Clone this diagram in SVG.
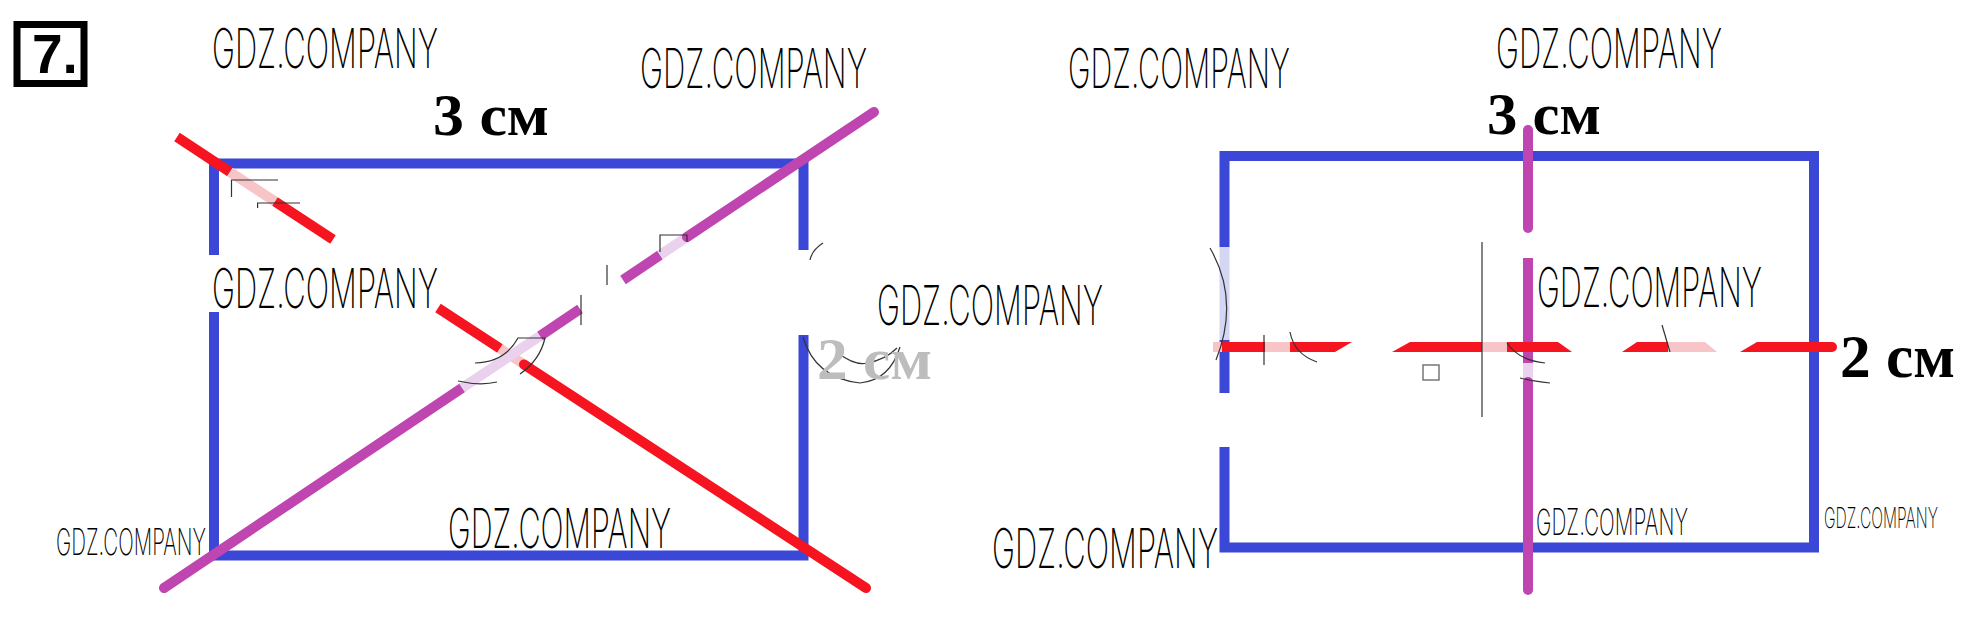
<svg xmlns="http://www.w3.org/2000/svg" width="1976" height="617" viewBox="0 0 1976 617">
<style>
.wm{font-family:Inter,"DejaVu Sans",sans-serif;font-weight:200;fill:#000;}
.lbl{font-family:"Liberation Serif","DejaVu Serif",serif;font-weight:bold;fill:#000;}
.edge{fill:none;stroke:#3b47d6;stroke-width:10;stroke-linejoin:miter;}
.red{stroke:#f5141f;stroke-width:10;fill:none;}
.redf{fill:#f5141f;}
.pink{stroke:#f7c4c8;stroke-width:10;fill:none;}
.pinkf{fill:#f7c4c8;}
.mag{stroke:#bf45b0;stroke-width:10;fill:none;}
.lmag{stroke:#ead2ee;stroke-width:10;fill:none;}
.thin{fill:none;stroke:#333;stroke-width:1.2;}
</style>
<rect width="1976" height="617" fill="#fff"/>

<g id="task-number">
<rect x="17" y="24.5" width="67" height="59" fill="none" stroke="#000" stroke-width="7"/>
<text x="32" y="73" font-family="Liberation Sans, Arial, sans-serif" font-weight="bold" font-size="55">7.</text>
</g>

<g id="left-rectangle">
<path class="edge" d="M214,255 V163.5 H803.5 V250"/>
<path class="edge" d="M803.5,335 V555.5 H214 V312"/>
</g>

<g id="right-rectangle">
<path class="edge" d="M1224.5,247 V156 H1814 V547.5 H1224.5 V447"/>
<path class="edge" d="M1224.5,340 V393"/>
<path d="M1224.5,247 V340" stroke="#d3d7f3" stroke-width="10"/>
</g>

<g id="connectors">
<path class="red" d="M177,137 L230,172"/>
<path class="pink" d="M230,172 L275,201.5"/>
<path class="red" d="M275,201.5 L333,239.5"/>
<path class="red" d="M438,308 L500,348.5"/>
<path class="pink" d="M500,348.5 L524,364.5"/>
<path class="red" d="M524,364.5 L866,588" stroke-linecap="round"/>
<path class="mag" d="M164,588 L462,388" stroke-linecap="round"/>
<path class="lmag" d="M462,388 L540,336"/>
<path class="mag" d="M540,336 L580,309"/>
<path class="mag" d="M623,280 L660,255"/>
<path class="lmag" d="M660,255 L687,237"/>
<path class="mag" d="M687,237 L874,112" stroke-linecap="round"/>
<path class="mag" d="M1528,130 V228" stroke-linecap="round"/>
<path class="mag" d="M1528,258 V363"/>
<path class="lmag" d="M1528,363 V382"/>
<path class="mag" d="M1528,382 V590" stroke-linecap="round"/>
<path class="pink" d="M1213,347 H1222"/>
<path class="red" d="M1222,347 H1265"/>
<path class="pink" d="M1265,347 H1290"/>
<polygon class="redf" points="1290,342 1352,342 1335,352 1290,352"/>
<polygon class="redf" points="1410,342 1482,342 1482,352 1392,352"/>
<path class="pink" d="M1482,347 H1507"/>
<polygon class="redf" points="1507,342 1558,342 1572,352 1507,352"/>
<polygon class="redf" points="1637,342 1668,342 1668,352 1622,352"/>
<polygon class="pinkf" points="1668,342 1705,342 1717,352 1668,352"/>
<polygon class="redf" points="1757,342 1832,342 1832,352 1740,352"/>
<circle cx="1832" cy="347" r="5" fill="#f5141f"/>
</g>

<g id="artifacts">
<path class="thin" d="M231.5,197 V180 H278"/>
<path class="thin" d="M257.6,208 V203 H300"/>
<path class="thin" d="M660,252 V235 H687 V242"/>
<path class="thin" d="M607,265 V285"/>
<path class="thin" d="M581,295 V325"/>
<path class="thin" d="M475,363 Q505,362 518,338 H545 Q540,360 520,374"/>
<path class="thin" d="M458,381 Q480,386 497,382"/>
<path class="thin" d="M1482,242 V417"/>
<rect x="1423" y="365" width="16" height="15" fill="none" stroke="#777" stroke-width="1.5"/>
<path class="thin" d="M1210,248 Q1240,300 1216,360"/>
<path class="thin" d="M1264,335 V365"/>
<path class="thin" d="M1290,332 Q1294,354 1317,362"/>
<path class="thin" d="M1507,343 Q1518,360 1545,363"/>
<path class="thin" d="M1520,378 Q1532,381 1550,383"/>
<path class="thin" d="M1662,325 L1670,352"/>
<path class="thin" d="M803,337 Q815,378 860,383 Q890,380 900,347"/>
<path class="thin" d="M838,353 Q855,366 867,363 Q885,360 897,348"/>
<path class="thin" d="M823,243 Q812,250 810,260"/>
</g>

<g id="labels">
<text class="lbl" x="433" y="135" font-size="60" textLength="116" lengthAdjust="spacingAndGlyphs">3 см</text>
<text class="lbl" x="1487" y="134" font-size="60" textLength="114" lengthAdjust="spacingAndGlyphs">3 см</text>
<text class="lbl" x="1840" y="377" font-size="62" textLength="115" lengthAdjust="spacingAndGlyphs">2 см</text>
<text class="lbl" x="817" y="379" font-size="60" textLength="115" lengthAdjust="spacingAndGlyphs" style="fill:#bdbdbd">2 см</text>
</g>

<g id="watermarks">
<text class="wm" x="212" y="68" font-size="55" textLength="226" lengthAdjust="spacingAndGlyphs">GDZ.COMPANY</text>
<text class="wm" x="640" y="88" font-size="55" textLength="227" lengthAdjust="spacingAndGlyphs">GDZ.COMPANY</text>
<text class="wm" x="1068" y="88" font-size="55" textLength="222" lengthAdjust="spacingAndGlyphs">GDZ.COMPANY</text>
<text class="wm" x="1496" y="68" font-size="55" textLength="226" lengthAdjust="spacingAndGlyphs">GDZ.COMPANY</text>
<text class="wm" x="212" y="308" font-size="55" textLength="226" lengthAdjust="spacingAndGlyphs">GDZ.COMPANY</text>
<text class="wm" x="877" y="325" font-size="55" textLength="226" lengthAdjust="spacingAndGlyphs">GDZ.COMPANY</text>
<text class="wm" x="1537" y="307" font-size="55" textLength="225" lengthAdjust="spacingAndGlyphs">GDZ.COMPANY</text>
<text class="wm" x="56" y="555" font-size="37" textLength="150" lengthAdjust="spacingAndGlyphs">GDZ.COMPANY</text>
<text class="wm" x="448" y="548" font-size="55" textLength="223" lengthAdjust="spacingAndGlyphs">GDZ.COMPANY</text>
<text class="wm" x="992" y="568" font-size="55" textLength="226" lengthAdjust="spacingAndGlyphs">GDZ.COMPANY</text>
<text class="wm" x="1536" y="535" font-size="36" textLength="152" lengthAdjust="spacingAndGlyphs">GDZ.COMPANY</text>
<text class="wm" x="1938" y="528" font-size="28" text-anchor="end" textLength="114" lengthAdjust="spacingAndGlyphs">GDZ.COMPANY</text>
</g>
</svg>
